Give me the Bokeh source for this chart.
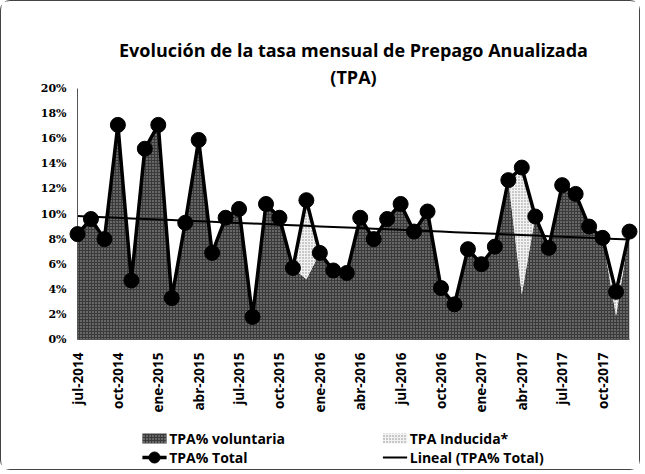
import numpy as np
from bokeh.plotting import figure
from bokeh.layouts import column
from bokeh.models import Range1d, FixedTicker, Title, PrintfTickFormatter
from bokeh.core.properties import value
from bokeh.embed import file_html
from bokeh.resources import INLINE

# ---- data -------------------------------------------------------------
months = ["jul-2014", "ago-2014", "sep-2014", "oct-2014", "nov-2014", "dic-2014",
          "ene-2015", "feb-2015", "mar-2015", "abr-2015", "may-2015", "jun-2015",
          "jul-2015", "ago-2015", "sep-2015", "oct-2015", "nov-2015", "dic-2015",
          "ene-2016", "feb-2016", "mar-2016", "abr-2016", "may-2016", "jun-2016",
          "jul-2016", "ago-2016", "sep-2016", "oct-2016", "nov-2016", "dic-2016",
          "ene-2017", "feb-2017", "mar-2017", "abr-2017", "may-2017", "jun-2017",
          "jul-2017", "ago-2017", "sep-2017", "oct-2017", "nov-2017", "dic-2017"]

tpa_voluntaria = [8.4, 9.6, 8.0, 17.1, 4.7, 15.2, 17.1, 3.3, 9.3, 15.9, 6.9, 9.7,
                  10.4, 1.8, 10.8, 9.7, 5.7, 4.8, 6.9, 5.5, 5.3, 9.7, 8.0, 9.6,
                  10.8, 8.6, 10.2, 4.1, 2.8, 7.2, 6.0, 7.4, 12.7, 3.6, 9.8, 7.3,
                  12.3, 11.6, 9.0, 8.1, 1.9, 8.6]
tpa_inducida = [0, 0, 0, 0, 0, 0, 0, 0, 0, 0, 0, 0,
                0, 0, 0, 0, 0, 6.3, 0, 0, 0, 0, 0, 0,
                0, 0, 0, 0, 0, 0, 0, 0, 0, 10.1, 0, 0,
                0, 0, 0, 0, 1.9, 0]

tick_labels = months[::3]
y_ticks = [0, 2, 4, 6, 8, 10, 12, 14, 16, 18, 20]
legend_labels = ["TPA% voluntaria", "TPA Inducida*", "TPA% Total", "Lineal (TPA% Total)"]

# ---- derived ----------------------------------------------------------
x = np.arange(len(months))
vol = np.array(tpa_voluntaria)
ind = np.array(tpa_inducida)
total = vol + ind
slope, intercept = np.polyfit(x, total, 1)
trend = slope * x + intercept

FONT = "Open Sans"
VOL_STYLE = dict(fill_color="#3a3a3a", hatch_pattern="dot", hatch_color="#c8c8c8",
                 hatch_scale=3, hatch_weight=1, hatch_alpha=0.8)
IND_STYLE = dict(fill_color="#f2f2f2", hatch_pattern="dot", hatch_color="#8a8a8a",
                 hatch_scale=3, hatch_weight=1)

W = 638
p = figure(width=W, height=418, output_backend="svg", toolbar_location=None,
           x_range=Range1d(0, len(months) - 1), y_range=Range1d(0, 20),
           min_border_left=76, min_border_right=10, min_border_top=87,
           min_border_bottom=80)
p.outline_line_color = None
p.xgrid.visible = False
p.ygrid.visible = False

p.varea(x=x, y1=0, y2=vol, **VOL_STYLE)
p.varea(x=x, y1=vol, y2=total, **IND_STYLE)
p.line(x, trend, line_color="black", line_width=2)
r_line = p.line(x, total, line_color="black", line_width=3.5)
r_pts = p.scatter(x, total, size=15, fill_color="black", line_color="black")
r_line.level = "overlay"
r_pts.level = "overlay"

# titles
p.add_layout(Title(text="(TPA)", align="center", text_font=FONT, text_color="black",
                   text_font_size="18px", text_font_style="bold", standoff=0), "above")
p.add_layout(Title(text="Evolución de la tasa mensual de Prepago Anualizada",
                   align="center", text_font=FONT, text_font_size="18px", text_color="black",
                   text_font_style="bold", standoff=2), "above")

# axes
p.yaxis.ticker = FixedTicker(ticks=y_ticks)
p.yaxis.formatter = PrintfTickFormatter(format="%d%%")
p.yaxis.major_label_text_font = "DejaVu Serif"
p.yaxis.major_label_text_font_size = "11px"
p.yaxis.major_label_text_font_style = "bold"
p.yaxis.major_label_text_color = "black"
p.yaxis.axis_line_color = "#555555"
p.yaxis.major_tick_line_color = None
p.yaxis.minor_tick_line_color = None
p.yaxis.major_label_standoff = 5

p.xaxis.ticker = FixedTicker(ticks=list(x[::3]))
p.xaxis.major_label_overrides = {int(i): lab for i, lab in zip(x[::3], tick_labels)}
p.xaxis.major_label_orientation = np.pi / 2
p.xaxis.major_label_text_font = FONT
p.xaxis.major_label_text_font_size = "13.5px"
p.xaxis.major_label_text_font_style = "bold"
p.xaxis.major_label_text_color = "black"
p.xaxis.axis_line_color = "#555555"
p.xaxis.major_tick_line_color = None
p.xaxis.minor_tick_line_color = None
p.xaxis.major_label_standoff = 7

# ---- legend strip (pixel coordinates) --------------------------------
LH = 50
lg = figure(width=W, height=LH, output_backend="svg", toolbar_location=None,
            x_range=Range1d(0, W), y_range=Range1d(0, LH),
            x_axis_type=None, y_axis_type=None,
            min_border_left=0, min_border_right=0, min_border_top=0, min_border_bottom=0)
lg.outline_line_color = None
lg.grid.visible = False

row1, row2 = 31, 12
col1, col2 = 75, 353
sw = 28
lg.quad(left=[col1], right=[col1 + sw], bottom=[row1 - 5], top=[row1 + 5],
        line_color=None, **VOL_STYLE)
lg.quad(left=[col2], right=[col2 + sw], bottom=[row1 - 5], top=[row1 + 5],
        line_color=None, **IND_STYLE)
lg.line([col1, col1 + sw], [row2, row2], line_color="black", line_width=3.5)
lg.scatter([col1 + sw / 2], [row2], size=11, fill_color="black", line_color="black")
lg.line([col2, col2 + sw], [row2, row2], line_color="black", line_width=2)
lg.text(x=[col1 + sw + 3, col2 + sw + 3, col1 + sw + 3, col2 + sw + 3],
        y=[row1, row1, row2, row2], text=legend_labels,
        text_font=value(FONT), text_font_size="14px", text_font_style="bold",
        text_baseline="middle", text_align="left", text_color="black")

layout = column(p, lg, styles={"border": "1px solid #444", "border-radius": "10px"})

open("out.html", "w").write(file_html(layout, INLINE))
